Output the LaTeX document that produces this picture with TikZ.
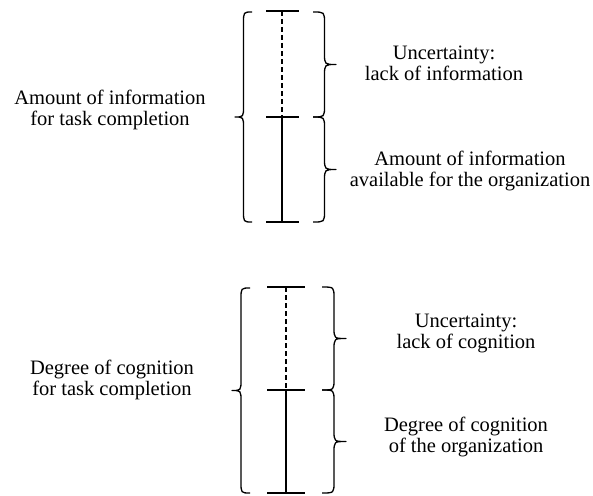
\documentclass[tikz,border=0pt]{standalone}
\usepackage{fontspec}
\setmainfont{Liberation Serif}
% #1 x of the two ends, #2 x of the tip, #3 top y, #4 bottom y
\newcommand\curlybrace[4]{%
  \draw[brc] (#1,#3)
    .. controls ({(#1+#2)/2},#3) .. ({(#1+#2)/2},{#3+11})
    -- ({(#1+#2)/2},{(#3+#4)/2-11})
    .. controls ({(#1+#2)/2},{(#3+#4)/2}) .. (#2,{(#3+#4)/2})
    .. controls ({(#1+#2)/2},{(#3+#4)/2}) .. ({(#1+#2)/2},{(#3+#4)/2+11})
    -- ({(#1+#2)/2},{#4-11})
    .. controls ({(#1+#2)/2},#4) .. (#1,#4);}
\begin{document}
\begin{tikzpicture}[x=1pt,y=-1pt,
  lbl/.style={align=center,font=\fontsize{20.5}{21}\selectfont,inner sep=0pt},
  bar/.style={line width=1.3pt},
  gap/.style={line width=1.3pt,dash pattern=on 5pt off 3pt},
  brc/.style={line width=1.3pt,line join=round}]
\useasboundingbox (0,0) rectangle (593,495);

% ---------- information scale ----------
\coordinate (iT) at (282,11);
\coordinate (iM) at (282,117);
\coordinate (iB) at (282,222);
\draw[gap] (iT) -- (iM);
\draw[bar] (iM) -- (iB);
\foreach \p in {iT,iM,iB}
  \draw[bar] ([xshift=-16pt]\p) -- ([xshift=17pt]\p);
\curlybrace{252}{235}{12}{222}
\curlybrace{313}{336}{12}{117}
\curlybrace{313}{336}{117}{222}
\node[lbl] (itask) at (110,110) {Amount of information\\for task completion};
\node[lbl] (ilack) at (444,63) {Uncertainty:\\lack of information};
\node[lbl] (iavail) at (470,171) {Amount of information\\available for the organization};

% ---------- cognition scale ----------
\coordinate (cT) at (286,287);
\coordinate (cM) at (286,390);
\coordinate (cB) at (286,493);
\draw[gap] (cT) -- (cM);
\draw[bar] (cM) -- (cB);
\foreach \p in {cT,cM,cB}
  \draw[bar] ([xshift=-19pt]\p) -- ([xshift=19pt]\p);
\curlybrace{250}{232}{288}{493}
\curlybrace{322}{346}{287}{390}
\curlybrace{322}{346}{390}{493}
\node[lbl] (ctask) at (112,380) {Degree of cognition\\for task completion};
\node[lbl] (clack) at (466,333) {Uncertainty:\\lack of cognition};
\node[lbl] (corg) at (466,437) {Degree of cognition\\of the organization};
\end{tikzpicture}
\end{document}
